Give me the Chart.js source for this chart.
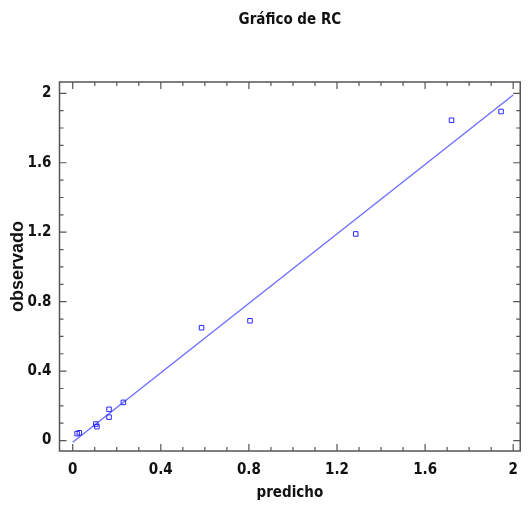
<!DOCTYPE html>
<html>
<head>
<meta charset="utf-8">
<script src="https://cdn.jsdelivr.net/npm/chart.js@4/dist/chart.umd.min.js"></script>
<style>
  body { margin: 0; background: #fff; }
  #wrap { width: 528px; height: 508px; }
</style>
</head>
<body>
<div id="wrap"><canvas id="myChart" width="528" height="508"></canvas></div>
<script>
// predicho vs observado
var predicho = [0.02, 0.03, 0.105, 0.11, 0.165, 0.165, 0.23, 0.585, 0.805, 1.285, 1.72, 1.945]
var observado = [0.04, 0.045, 0.095, 0.08, 0.18, 0.135, 0.22, 0.65, 0.69, 1.19, 1.845, 1.895]
// fitted line ends
var lineX = [0, 2]
var lineY = [-0.01, 1.99]
var tickVals = [0, 0.4, 0.8, 1.2, 1.6, 2]

var narrow = "'Liberation Sans Narrow', 'DejaVu Sans Condensed', 'Arial Narrow', sans-serif"

var pts = predicho.map((v, i) => ({ x: v, y: observado[i] }))
var fit = lineX.map((v, i) => ({ x: v, y: lineY[i] }))

// frame + inward ticks (top/bottom/left/right), like the original plot
var frameTicks = {
    id: 'frameTicks',
    afterDatasetsDraw(chart) {
        var ctx = chart.ctx
        var a = chart.chartArea
        var xs = chart.scales.x, ys = chart.scales.y
        ctx.save()
        ctx.strokeStyle = '#555'
        ctx.lineWidth = 1.5
        ctx.strokeRect(a.left, a.top, a.right - a.left, a.bottom - a.top)
        ctx.lineWidth = 1.2
        ctx.beginPath()
        for (var k = 0; k <= 20; k++) {
            var v = k / 10
            var len = (k % 4 == 0) ? 7 : 4
            var px = xs.getPixelForValue(v)
            ctx.moveTo(px, a.bottom); ctx.lineTo(px, a.bottom - len)
            ctx.moveTo(px, a.top); ctx.lineTo(px, a.top + len)
            var py = ys.getPixelForValue(v)
            ctx.moveTo(a.left, py); ctx.lineTo(a.left + len, py)
            ctx.moveTo(a.right, py); ctx.lineTo(a.right - len, py)
        }
        ctx.stroke()
        ctx.restore()
    }
}

var ctx = document.getElementById('myChart').getContext('2d');
var myChart = new Chart(ctx, {
    type: 'scatter',
    data: {
        datasets: [{
            label: 'RC',
            data: pts,
            pointStyle: 'rect',
            pointRadius: 3.2,
            borderColor: 'rgb(40, 40, 255)',
            backgroundColor: 'rgba(0,0,0,0)',
            borderWidth: 1,
            order: 1
        }, {
            type: 'line',
            label: 'ajuste',
            data: fit,
            borderColor: 'rgb(110, 110, 255)',
            borderWidth: 1.4,
            pointRadius: 0,
            fill: false,
            order: 2
        }]
    },
    options: {
        responsive: false,
        animation: false,
        layout: { padding: { left: 0, right: 2, top: 0, bottom: 0 } },
        plugins: {
            legend: { display: false },
            tooltip: { enabled: false },
            title: {
                display: true,
                text: 'Gráfico de RC',
                fullSize: false,
                color: '#111',
                font: { family: narrow, size: 15, weight: 'bold' },
                padding: { top: 11, bottom: 53 }
            }
        },
        scales: {
            x: {
                type: 'linear',
                min: -0.06,
                max: 2.032,
                afterBuildTicks: s => { s.ticks = tickVals.map(v => ({ value: v })) },
                afterFit: s => { s.height = 57 },
                grid: { display: false, drawTicks: false },
                border: { display: false },
                ticks: {
                    color: '#111',
                    padding: 10,
                    maxRotation: 0,
                    font: { family: narrow, size: 15, weight: 'bold' },
                    callback: v => String(v)
                },
                title: {
                    display: true,
                    text: 'predicho',
                    color: '#111',
                    font: { family: narrow, size: 15, weight: 'bold' },
                    padding: { top: 0, bottom: 6 }
                }
            },
            y: {
                type: 'linear',
                min: -0.06,
                max: 2.065,
                afterBuildTicks: s => { s.ticks = tickVals.map(v => ({ value: v })) },
                afterFit: s => { s.width = 59.5 },
                grid: { display: false, drawTicks: false },
                border: { display: false },
                ticks: {
                    color: '#111',
                    padding: 8,
                    font: { family: narrow, size: 15, weight: 'bold' },
                    callback: v => String(v)
                },
                title: {
                    display: true,
                    text: 'observado',
                    color: '#111',
                    font: { family: "'Liberation Sans', Arial, sans-serif", size: 18, weight: 'bold' },
                    padding: { top: 7, bottom: 0 }
                }
            }
        }
    },
    plugins: [frameTicks]
});
</script>
</body>
</html>
